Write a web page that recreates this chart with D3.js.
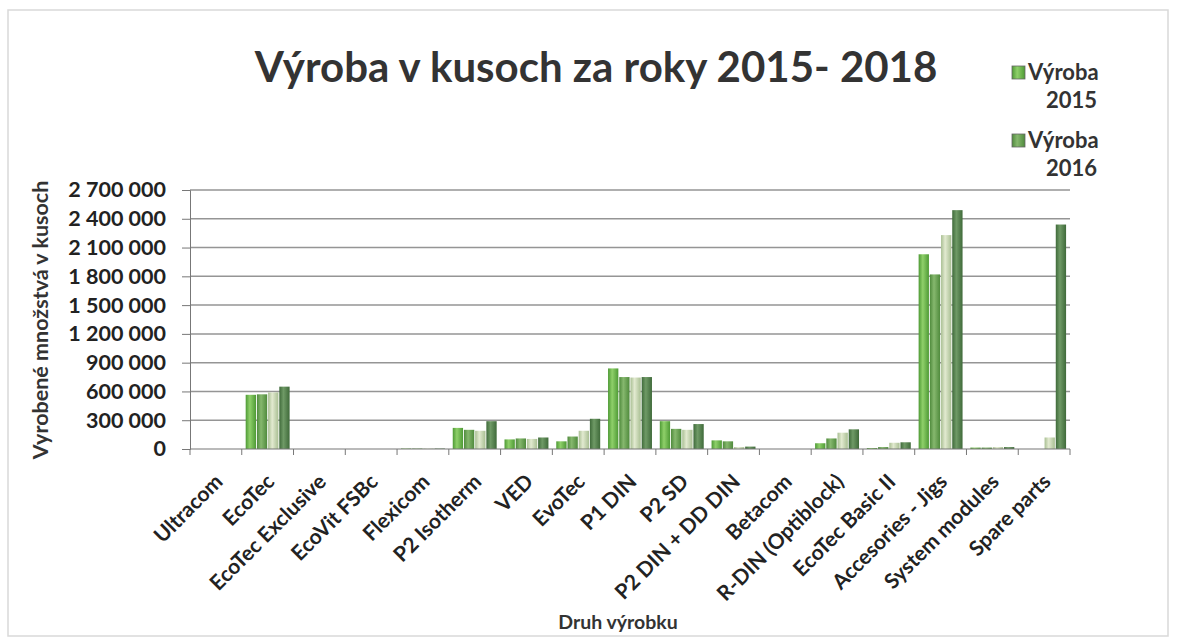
<!DOCTYPE html>
<html><head><meta charset="utf-8">
<script src="https://cdn.jsdelivr.net/npm/d3@7"></script>
<style>body{margin:0;background:#fff;} svg{display:block;font-family:Lato,"Open Sans",sans-serif;}</style>
</head><body><svg id="c" width="1180" height="638"></svg>
<script>
const categories = ["Ultracom","EcoTec","EcoTec Exclusive","EcoVit FSBc","Flexicom","P2 Isotherm","VED","EvoTec","P1 DIN","P2 SD","P2 DIN + DD DIN","Betacom","R-DIN (Optiblock)","EcoTec Basic II","Accesories - Jigs","System modules","Spare parts"];
const seriesNames = ["Výroba 2015","Výroba 2016","Výroba 2017","Výroba 2018"];
const v2015 = [0,565000,0,0,5000,220000,100000,80000,840000,290000,90000,0,60000,10000,2030000,15000,0];
const v2016 = [0,570000,0,0,5000,200000,110000,130000,750000,210000,80000,0,110000,20000,1820000,15000,0];
const v2017 = [0,590000,0,0,5000,190000,105000,190000,745000,200000,20000,0,170000,65000,2230000,20000,120000];
const v2018 = [0,650000,0,0,5000,290000,120000,315000,750000,260000,25000,0,205000,70000,2490000,20000,2340000];
const yTicks = [0,300000,600000,900000,1200000,1500000,1800000,2100000,2400000,2700000];
const seriesValues = [v2015,v2016,v2017,v2018];
const colors = [["#8fd06a","#4e9a35"],["#86b86e","#4f8a3c"],["#e2ead0","#a9bf93"],["#6f9a66","#3f6a3a"]];

const svg = d3.select("#c");
const defs = svg.append("defs");
colors.forEach((c,i)=>{
  const g = defs.append("linearGradient").attr("id","g"+i).attr("x1","0").attr("x2","1").attr("y1","0").attr("y2","0");
  g.append("stop").attr("offset","0%").attr("stop-color",c[1]);
  g.append("stop").attr("offset","40%").attr("stop-color",c[0]);
  g.append("stop").attr("offset","100%").attr("stop-color",c[1]);
});

svg.append("rect").attr("x",8).attr("y",10).attr("width",1160).attr("height",626).attr("fill","none").attr("stroke","#d9d9d9").attr("stroke-width",1.5);

const m = {l:190, r:1070, t:190, b:449};
const x = d3.scaleBand().domain(categories).range([m.l,m.r]).paddingInner(0).paddingOuter(0);
const x1 = d3.scaleBand().domain(d3.range(4)).range([0,x.bandwidth()]).paddingOuter(0.35).paddingInner(0.08);
const y = d3.scaleLinear().domain([0,2700000]).range([m.b,m.t]);

// gridlines
svg.append("g").selectAll("line").data(yTicks.slice(1)).join("line")
  .attr("x1",m.l).attr("x2",m.r).attr("y1",d=>y(d)).attr("y2",d=>y(d))
  .attr("stroke","#959595").attr("stroke-width",1.5);

// bars
const groups = svg.append("g").selectAll("g").data(categories).join("g")
  .attr("transform",d=>`translate(${x(d)},0)`);
groups.selectAll("rect").data((d,i)=>seriesValues.map((s,k)=>({k,v:s[i]}))).join("rect")
  .attr("x",d=>x1(d.k)).attr("width",x1.bandwidth())
  .attr("y",d=>y(d.v)).attr("height",d=>m.b-y(d.v))
  .attr("fill",d=>`url(#g${d.k})`);

// y axis
const fmt = d=>d3.format(",")(d).replace(/,/g," ");
const ya = svg.append("g").attr("transform",`translate(${m.l},0)`)
  .call(d3.axisLeft(y).tickValues(yTicks).tickFormat(fmt).tickSize(8).tickPadding(16));
ya.select(".domain").attr("stroke","#777");
ya.selectAll(".tick line").attr("stroke","#777");
ya.selectAll("text").attr("font-size",21.5).attr("font-weight","bold").attr("fill","#222").attr("font-family","Lato");

// x axis
const xa = svg.append("g").attr("transform",`translate(0,${m.b})`);
xa.append("line").attr("x1",m.l).attr("x2",m.r).attr("stroke","#777").attr("stroke-width",1.2);
const edges = categories.map(c=>x(c)).concat([m.r]);
xa.selectAll("line.t").data(edges).join("line").attr("class","t")
  .attr("x1",d=>d).attr("x2",d=>d).attr("y1",0).attr("y2",6).attr("stroke","#777");
xa.selectAll("text").data(categories).join("text")
  .attr("transform",d=>`translate(${x(d)+x.bandwidth()/2+8},${34}) rotate(-45)`)
  .attr("text-anchor","end").attr("font-size",21).attr("font-weight","bold").attr("fill","#222")
  .text(d=>d);

// titles
svg.append("text").attr("x",596).attr("y",82).attr("text-anchor","middle")
  .attr("font-size",42).attr("font-weight","bold").attr("fill","#333").text("Výroba v kusoch za roky 2015- 2018");
svg.append("text").attr("transform","translate(48,320) rotate(-90)").attr("text-anchor","middle")
  .attr("font-size",21.5).attr("font-weight","bold").attr("fill","#333").text("Vyrobené množstvá v kusoch");
svg.append("text").attr("x",618).attr("y",629).attr("text-anchor","middle")
  .attr("font-size",19.5).attr("font-weight","bold").attr("fill","#333").text("Druh výrobku");

// legend (only first two entries visible in reference)
const leg = svg.append("g");
seriesNames.slice(0,2).forEach((n,i)=>{
  const parts = n.split(" ");
  const gy = 80 + i*68;
  leg.append("rect").attr("x",1012).attr("y",gy-14).attr("width",13).attr("height",13).attr("fill",`url(#g${i})`).attr("stroke","#666").attr("stroke-width",0.8);
  leg.append("text").attr("x",1028).attr("y",gy).attr("font-size",22).attr("font-weight","bold").attr("fill","#333").text(parts[0]);
  leg.append("text").attr("x",1046).attr("y",gy+28).attr("font-size",22).attr("font-weight","bold").attr("fill","#333").text(parts[1]);
});
</script></body></html>
